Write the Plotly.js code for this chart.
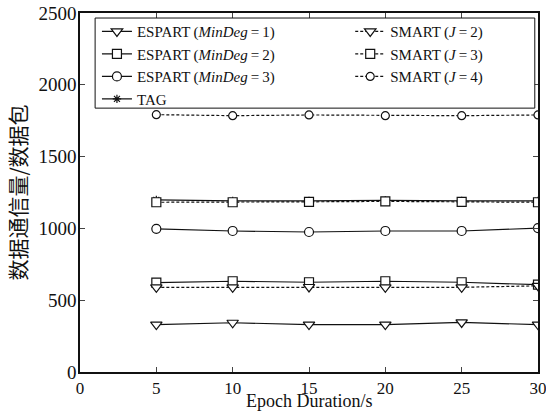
<!DOCTYPE html>
<html><head><meta charset="utf-8">
<script src="https://cdn.plot.ly/plotly-3.0.1.min.js"></script>
<style>body{margin:0;padding:0;background:#fff}</style>
</head><body>
<div id="chart" style="width:546px;height:413px"></div>
<script>
const epochs = [5, 10, 15, 20, 25, 30];
const espart1 = [330, 343, 330, 330, 345, 330];
const espart2 = [622, 632, 625, 632, 625, 608];
const espart3 = [997, 982, 975, 982, 982, 1002];
const tag = [1198, 1192, 1192, 1195, 1192, 1192];
const smart2 = [590, 590, 592, 590, 590, 600];
const smart3 = [1182, 1182, 1185, 1188, 1185, 1182];
const smart4 = [1792, 1785, 1790, 1785, 1785, 1790];
const xTicks = [0, 5, 10, 15, 20, 25, 30];
const yTicks = [0, 500, 1000, 1500, 2000, 2500];
const xTitle = 'Epoch Duration/s';
const yTitle = '数据通信量/数据包';

const serif = "Liberation Serif, DejaVu Serif, serif";
function tr(name, y, symbol, dash, size, legend) {
  const open = symbol.indexOf('open') >= 0;
  return {x: epochs, y: y, name: name, type: 'scatter', mode: 'lines+markers', legend: legend,
    line: {color: '#111', width: 1.2, dash: dash},
    marker: {symbol: symbol, size: size, color: open ? '#111' : '#fff', line: {color: '#111', width: 1.2}}};
}
const traces = [
  tr('ESPART\u2009(<i>MinDeg</i>\u2009=\u20091)', espart1, 'triangle-down', 'solid', 10, 'legend'),
  tr('ESPART\u2009(<i>MinDeg</i>\u2009=\u20092)', espart2, 'square', 'solid', 9, 'legend'),
  tr('ESPART\u2009(<i>MinDeg</i>\u2009=\u20093)', espart3, 'circle', 'solid', 9, 'legend'),
  tr('TAG', tag, 'asterisk-open', 'solid', 7, 'legend'),
  tr('SMART\u2009(<i>J</i>\u2009=\u20092)', smart2, 'triangle-down', '3px,2px', 10, 'legend2'),
  tr('SMART\u2009(<i>J</i>\u2009=\u20093)', smart3, 'square', '3px,2px', 9, 'legend2'),
  tr('SMART\u2009(<i>J</i>\u2009=\u20094)', smart4, 'circle', '3px,2px', 8, 'legend2')
];
const legFont = {family: serif, size: 15, color: '#111'};
const layout = {
  width: 546, height: 413,
  margin: {l: 80, r: 8, t: 13, b: 41},
  paper_bgcolor: '#fff', plot_bgcolor: '#fff',
  font: {family: serif, color: '#111', size: 17},
  showlegend: true,
  legend: {x: 0.037, y: 0.994, xanchor: 'left', yanchor: 'top', orientation: 'v',
    bgcolor: 'rgba(0,0,0,0)', borderwidth: 0, font: legFont, itemwidth: 30, tracegroupgap: 0},
  legend2: {x: 0.59, y: 0.994, xanchor: 'left', yanchor: 'top', orientation: 'v',
    bgcolor: 'rgba(0,0,0,0)', borderwidth: 0, font: legFont, itemwidth: 30, tracegroupgap: 0},
  shapes: [{type: 'rect', xref: 'paper', yref: 'paper', x0: 0.033, x1: 0.993, y0: 0.735, y1: 0.986,
    line: {color: '#111', width: 1}, fillcolor: '#fff', layer: 'above'}],
  annotations: [{text: xTitle, xref: 'paper', yref: 'paper', x: 0.5, y: 0, xanchor: 'center',
    yanchor: 'bottom', yshift: -40, showarrow: false, borderpad: 0,
    font: {family: serif, size: 18, color: '#111'}}],
  xaxis: {range: [0, 30], tickvals: xTicks, ticks: 'inside', ticklen: 5, ticklabeloverflow: 'allow',
    showline: true, linecolor: '#111', linewidth: 1.5, mirror: 'ticks', showgrid: false, zeroline: false,
    tickfont: {family: serif, size: 17}},
  yaxis: {range: [0, 2500], tickvals: yTicks, ticks: 'inside', ticklen: 5, ticklabelstandoff: -2,
    showline: true, linecolor: '#111', linewidth: 1.5, mirror: 'ticks', showgrid: false, zeroline: false,
    title: {text: yTitle, font: {family: 'Noto Sans CJK SC', size: 21}, standoff: 6},
    tickfont: {family: serif, size: 19}}
};
Plotly.newPlot('chart', traces, layout, {displayModeBar: false});
</script>
</body></html>
